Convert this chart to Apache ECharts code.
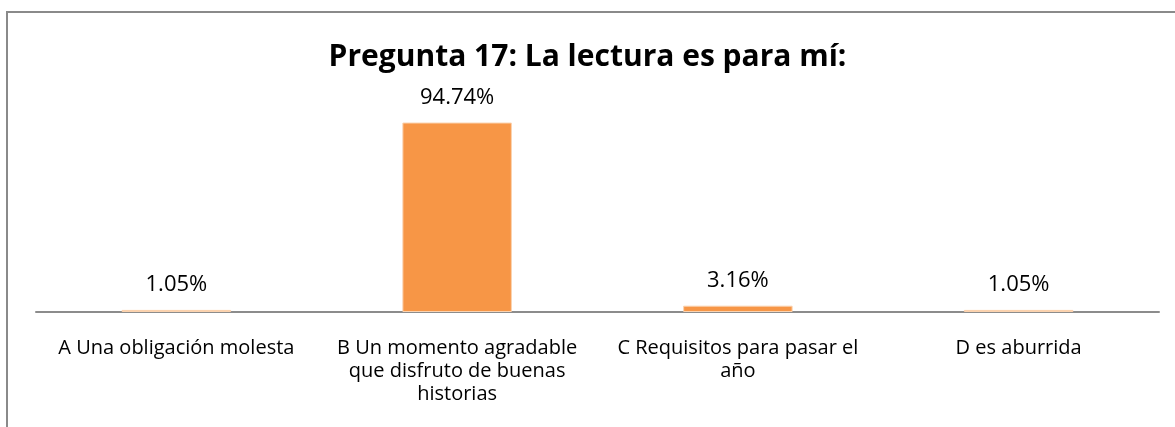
<!DOCTYPE html>
<html>
<head>
<meta charset="utf-8">
<script src="https://cdn.jsdelivr.net/npm/echarts@6/dist/echarts.min.js"></script>
<style>
    html, body { margin: 0; padding: 0; background: #fff; }
    #chartDiv { width: 1175px; height: 427px; position: relative; }
    /* marco gris del gráfico */
    #marco { position: absolute; left: 6px; top: 11px; width: 1300px; height: 600px;
             border: 2px solid #8a8a8a; box-sizing: border-box; pointer-events: none; }
</style>
</head>
<body>
<div id="chartDiv"></div>
<div id="marco"></div>
<script>
    // datos de la pregunta 17
    var categorias = [
        'A Una obligación molesta',
        'B Un momento agradable\nque disfruto de buenas\nhistorias',
        'C Requisitos para pasar el\naño',
        'D es aburrida'
    ];
    var porcentajes = [1.05, 94.74, 3.16, 1.05];
    var titulo = 'Pregunta 17: La lectura es para mí:';

    var chart = echarts.init(document.getElementById('chartDiv'));
    chart.setOption({
        animation: false,
        title: {
            text: titulo,
            left: 'center',
            top: 37,
            textStyle: { fontFamily: 'Open Sans', fontWeight: 'bold', fontSize: 30, color: '#000' }
        },
        grid: { left: 36, right: 16, top: 112, bottom: 115 },
        xAxis: {
            type: 'category',
            data: categorias,
            axisLine: { lineStyle: { color: '#8c8c8c', width: 2 } },
            axisTick: { show: false },
            axisLabel: {
                interval: 0,
                margin: 25,
                fontFamily: 'Open Sans',
                fontSize: 20,
                lineHeight: 23,
                color: '#000'
            }
        },
        yAxis: {
            type: 'value',
            min: 0,
            max: 100,
            show: false,
            splitLine: { show: false }
        },
        series: [{
            type: 'bar',
            data: porcentajes,
            barWidth: '39%',
            itemStyle: { color: '#F79646', borderColor: '#fbd3b0', borderWidth: 1 },
            label: {
                show: true,
                position: 'top',
                distance: 14,
                fontFamily: 'Open Sans',
                fontSize: 22,
                color: '#000',
                formatter: function (p) { return p.value.toFixed(2) + '%'; }
            }
        }]
    });
</script>
</body>
</html>
